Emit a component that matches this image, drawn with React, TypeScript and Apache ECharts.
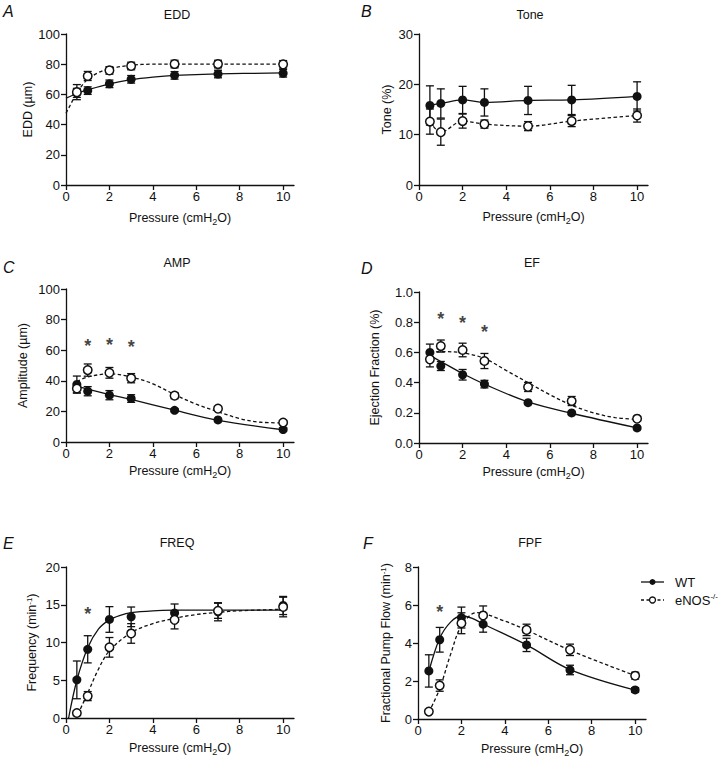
import React, { useEffect, useRef } from "react";
import * as echarts from "echarts";

// ---------- data ----------
const pressure = [0.5, 1, 2, 3, 5, 7, 10];
const xTicks = [0, 2, 4, 6, 8, 10];

// A: EDD (µm)
const eddWT = [61, 62.5, 67, 70, 72.6, 73.5, 74];
const eddWTErr = [3, 2.5, 2.5, 2.5, 2.5, 2.5, 2.5];
const eddKO = [61.5, 72.2, 75.9, 78.8, 80.1, 80.1, 79.9];
const eddKOErr = [5, 3, 2.5, 2.5, 2.5, 2.5, 2.5];
const eddFitWT = [[0, 57.5], [0.5, 60.6], [1, 63], [2, 67], [3, 69.8], [4, 71.5], [5, 72.6], [7, 73.6], [10, 74.2]];
const eddFitKO = [[0, 47.5], [0.2, 53], [0.4, 58.5], [0.6, 63], [0.8, 67], [1, 70], [1.5, 74.5], [2, 77], [3, 79.3], [4, 80], [10, 80]];

// B: Tone (%)
const toneWT = [15.8, 16.2, 16.9, 16.4, 16.8, 16.9, 17.6];
const toneWTErr = [3.9, 2.9, 2.7, 2.7, 2.8, 2.9, 2.9];
const toneKO = [12.6, 10.5, 12.7, 12.1, 11.7, 12.7, 13.8];
const toneKOErr = [2.5, 2.6, 1.4, 0.8, 0.9, 1.1, 1.3];

// C: Amplitude (µm)
const ampWT = [37.6, 33.2, 30.6, 28.4, 20.7, 14.4, 8.1];
const ampWTErr = [5.5, 3, 3, 2.5, 1, 1, 1];
const ampKO = [35, 47, 45.2, 41.7, 30.3, 21.8, 12.7];
const ampKOErr = [3, 4, 3.5, 3, 2, 1, 1];
const ampFitWT = [[0.5, 36.5], [1, 34.5], [2, 31], [3, 27.8], [5, 20.8], [7, 14.2], [10, 8]];
const ampFitKO = [[0.5, 39.5], [1, 42.5], [2, 44.5], [3, 42.5], [4, 38], [5, 31], [6, 24.7], [7, 19.8], [8, 15.3], [9, 12.9], [10, 12.5]];
const ampStars = [[1, 66], [2, 66.5], [3, 65.5]];

// D: Ejection Fraction
const efWT = [0.6, 0.51, 0.452, 0.39, 0.267, 0.199, 0.1];
const efWTErr = [0.055, 0.03, 0.035, 0.025, 0.01, 0.01, 0.01];
const efKO = [0.554, 0.642, 0.616, 0.543, 0.371, 0.278, 0.161];
const efKOErr = [0.05, 0.04, 0.045, 0.05, 0.03, 0.03, 0.015];
const efFitWT = [[0.5, 0.58], [1, 0.54], [2, 0.46], [3, 0.39], [5, 0.272], [7, 0.197], [10, 0.1]];
const efFitKO = [[0.5, 0.6], [1, 0.605], [2, 0.597], [3, 0.56], [4, 0.48], [5, 0.4], [6, 0.32], [7, 0.25], [8, 0.2], [9, 0.168], [10, 0.157]];
const efStars = [[1, 0.852], [2, 0.83], [3, 0.768]];

// E: Frequency (min-1)
const freqWT = [5.05, 9.1, 13.05, 13.4, 13.9, 14.07, 14.9];
const freqWTErr = [2.5, 1.8, 1.7, 1.3, 1.2, 1.2, 1.2];
const freqKO = [0.66, 2.9, 9.36, 11.2, 13, 14.2, 14.7];
const freqKOErr = [0.2, 0.6, 1.3, 1.3, 1.2, 1, 1.3];
const freqFitWT = [[0.12, 0], [0.5, 5], [1, 9.3], [1.5, 11.8], [2, 13], [2.5, 13.6], [3, 13.95], [4, 14.2], [5, 14.28], [7, 14.3], [10, 14.3]];
const freqFitKO = [[0.55, 0.5], [1, 3.3], [1.5, 6.5], [2, 8.9], [3, 11.3], [4, 12.5], [5, 13.2], [6, 13.7], [7, 14], [8, 14.2], [10, 14.4]];
const freqStars = [[1, 14.4]];

// F: Fractional Pump Flow (min-1)
const fpfWT = [2.53, 4.17, 5.34, 4.99, 3.9, 2.58, 1.53];
const fpfWTErr = [0.85, 0.65, 0.55, 0.42, 0.35, 0.25, 0.12];
const fpfKO = [0.39, 1.76, 5.04, 5.45, 4.69, 3.64, 2.28];
const fpfKOErr = [0.1, 0.3, 0.55, 0.5, 0.3, 0.3, 0.18];
const fpfFitWT = [[0.5, 2.5], [1, 4.25], [1.5, 5.1], [2, 5.42], [2.5, 5.3], [3, 5.0], [5, 3.9], [7, 2.6], [10, 1.52]];
const fpfFitKO = [[0.5, 0.35], [1, 1.6], [1.5, 3.4], [2, 4.9], [2.7, 5.6], [4, 5.15], [5, 4.68], [7, 3.62], [10, 2.28]];
const fpfStars = [[1, 5.92]];

const seriesNames = ["WT", "eNOS-/-"];

// ---------- layout ----------
const FONT = "'Liberation Sans', Arial, Helvetica, sans-serif";
const INK = "#111";

type Panel = {
  letter: string;
  title: string;
  grid: { left: number; top: number; width: number; height: number };
  yMax: number;
  yInterval: number;
  yName: string;
  yNameGap: number;
  xNameGap: number;
  yDecimals: number;
  wt: number[];
  wtErr: number[];
  ko: number[];
  koErr: number[];
  fitWT: number[][];
  fitKO: number[][];
  stars: number[][];
  titleX: number;
  titleY: number;
  letterX: number;
  letterY: number;
};

const panels: Panel[] = [
  {
    letter: "A", title: "EDD", grid: { left: 66, top: 34, width: 228, height: 151 },
    yMax: 100, yInterval: 20, yName: "EDD (µm)", yNameGap: 28, xNameGap: 25, yDecimals: 0,
    wt: eddWT, wtErr: eddWTErr, ko: eddKO, koErr: eddKOErr,
    fitWT: eddFitWT, fitKO: eddFitKO, stars: [],
    titleX: 177, titleY: 15, letterX: 3, letterY: 11,
  },
  {
    letter: "B", title: "Tone", grid: { left: 419, top: 34, width: 229, height: 151 },
    yMax: 30, yInterval: 10, yName: "Tone (%)", yNameGap: 26, xNameGap: 24, yDecimals: 0,
    wt: toneWT, wtErr: toneWTErr, ko: toneKO, koErr: toneKOErr,
    fitWT: pressure.map((x, i) => [x, toneWT[i]]), fitKO: pressure.map((x, i) => [x, toneKO[i]]), stars: [],
    titleX: 530, titleY: 15, letterX: 361, letterY: 11,
  },
  {
    letter: "C", title: "AMP", grid: { left: 66, top: 289, width: 228, height: 153 },
    yMax: 100, yInterval: 20, yName: "Amplitude (µm)", yNameGap: 37, xNameGap: 21, yDecimals: 0,
    wt: ampWT, wtErr: ampWTErr, ko: ampKO, koErr: ampKOErr,
    fitWT: ampFitWT, fitKO: ampFitKO, stars: ampStars,
    titleX: 177, titleY: 263, letterX: 3, letterY: 267,
  },
  {
    letter: "D", title: "EF", grid: { left: 419, top: 292, width: 229, height: 151 },
    yMax: 1, yInterval: 0.2, yName: "Ejection Fraction (%)", yNameGap: 38, xNameGap: 21, yDecimals: 1,
    wt: efWT, wtErr: efWTErr, ko: efKO, koErr: efKOErr,
    fitWT: efFitWT, fitKO: efFitKO, stars: efStars,
    titleX: 532, titleY: 263, letterX: 361, letterY: 268,
  },
  {
    letter: "E", title: "FREQ", grid: { left: 66, top: 567, width: 228, height: 151 },
    yMax: 20, yInterval: 5, yName: "Frequency (min{sup|-1})", yNameGap: 27, xNameGap: 22, yDecimals: 0,
    wt: freqWT, wtErr: freqWTErr, ko: freqKO, koErr: freqKOErr,
    fitWT: freqFitWT, fitKO: freqFitKO, stars: freqStars,
    titleX: 177, titleY: 543, letterX: 3, letterY: 543,
  },
  {
    letter: "F", title: "FPF", grid: { left: 418, top: 567, width: 228, height: 152 },
    yMax: 8, yInterval: 2, yName: "Fractional Pump Flow (min{sup|-1})", yNameGap: 25, xNameGap: 22, yDecimals: 0,
    wt: fpfWT, wtErr: fpfWTErr, ko: fpfKO, koErr: fpfKOErr,
    fitWT: fpfFitWT, fitKO: fpfFitKO, stars: fpfStars,
    titleX: 530, titleY: 543, letterX: 363, letterY: 543,
  },
];

const richText = {
  sub: { fontSize: 9, fontFamily: FONT, color: INK, padding: [7, 0, 0, 0] },
  sup: { fontSize: 8, fontFamily: FONT, color: INK, padding: [0, 0, 6, 0] },
};

function errorRender(params: any, api: any) {
  const x = api.value(0);
  const lo = api.value(1);
  const hi = api.value(2);
  const p1 = api.coord([x, hi]);
  const p2 = api.coord([x, lo]);
  const w = 4;
  const style = { stroke: INK, lineWidth: 1.3, fill: "none" };
  return {
    type: "group",
    children: [
      { type: "line", shape: { x1: p1[0], y1: p1[1], x2: p2[0], y2: p2[1] }, style },
      { type: "line", shape: { x1: p1[0] - w, y1: p1[1], x2: p1[0] + w, y2: p1[1] }, style },
      { type: "line", shape: { x1: p2[0] - w, y1: p2[1], x2: p2[0] + w, y2: p2[1] }, style },
    ],
  };
}

function buildOption() {
  const grid: any[] = [];
  const xAxis: any[] = [];
  const yAxis: any[] = [];
  const series: any[] = [];
  const graphic: any[] = [];

  panels.forEach((p, i) => {
    grid.push({ ...p.grid, outerBoundsMode: "none", containLabel: false });
    xAxis.push({
      type: "value", gridIndex: i, min: 0, max: 10.5,
      name: "Pressure (cmH{sub|2}O)", nameLocation: "middle", nameGap: p.xNameGap,
      nameTextStyle: { fontSize: 12.5, fontFamily: FONT, color: INK, rich: richText },
      axisLine: { onZero: false, lineStyle: { color: INK, width: 1.3 } },
      axisTick: { length: 5, lineStyle: { color: INK, width: 1.3 }, customValues: xTicks },
      axisLabel: { fontSize: 13, fontFamily: FONT, color: INK, margin: 5, customValues: xTicks },
      splitLine: { show: false },
    });
    yAxis.push({
      type: "value", gridIndex: i, min: 0, max: p.yMax, interval: p.yInterval,
      name: p.yName, nameLocation: "middle", nameGap: p.yNameGap,
      nameTextStyle: { fontSize: 12.5, fontFamily: FONT, color: INK, rich: richText },
      axisLine: { show: true, onZero: false, lineStyle: { color: INK, width: 1.3 } },
      axisTick: { show: true, length: 5, lineStyle: { color: INK, width: 1.3 } },
      axisLabel: {
        fontSize: 13, fontFamily: FONT, color: INK, margin: 6,
        formatter: (v: number) => v.toFixed(p.yDecimals),
      },
      splitLine: { show: false },
    });

    const errData = (m: number[], e: number[]) => pressure.map((x, k) => [x, m[k] - e[k], m[k] + e[k]]);
    [
      { m: p.wt, e: p.wtErr, name: seriesNames[0] },
      { m: p.ko, e: p.koErr, name: seriesNames[1] },
    ].forEach((s) => {
      series.push({
        type: "custom", name: s.name + " SEM", xAxisIndex: i, yAxisIndex: i,
        renderItem: errorRender, encode: { x: 0, y: [1, 2] },
        data: errData(s.m, s.e), z: 2, silent: true,
      });
    });

    series.push({
      type: "line", name: seriesNames[0] + " fit", xAxisIndex: i, yAxisIndex: i,
      data: p.fitWT, showSymbol: false, smooth: 0.35,
      lineStyle: { color: INK, width: 1.3, type: "solid" }, z: 3, silent: true,
    });
    series.push({
      type: "line", name: seriesNames[1] + " fit", xAxisIndex: i, yAxisIndex: i,
      data: p.fitKO, showSymbol: false, smooth: 0.35,
      lineStyle: { color: INK, width: 1.3, type: [3.5, 2.5] }, z: 3, silent: true,
    });

    series.push({
      type: "scatter", name: seriesNames[0], xAxisIndex: i, yAxisIndex: i,
      data: pressure.map((x, k) => [x, p.wt[k]]), symbol: "circle", symbolSize: 9,
      itemStyle: { color: INK, opacity: 1 }, z: 5, silent: true,
    });
    series.push({
      type: "scatter", name: seriesNames[1], xAxisIndex: i, yAxisIndex: i,
      data: pressure.map((x, k) => [x, p.ko[k]]), symbol: "circle", symbolSize: 8.5,
      itemStyle: { color: "#fff", borderColor: INK, borderWidth: 1.5, opacity: 1 }, z: 6, silent: true,
    });

    if (p.stars.length) {
      series.push({
        type: "scatter", name: "significance", xAxisIndex: i, yAxisIndex: i,
        data: p.stars, symbolSize: 0, z: 6, silent: true,
        label: {
          show: true, position: "inside", formatter: "*", offset: [0, 5],
          fontSize: 18, fontWeight: "bold", fontFamily: FONT, color: INK,
        },
      });
    }

    graphic.push({
      type: "text", x: p.titleX, y: p.titleY,
      style: { text: p.title, fill: INK, font: `12.5px ${FONT}`, align: "center", verticalAlign: "middle" },
    });
    graphic.push({
      type: "text", x: p.letterX, y: p.letterY,
      style: { text: p.letter, fill: INK, font: `italic 16px ${FONT}`, align: "left", verticalAlign: "middle" },
    });
  });

  // legend (panel F)
  const lx1 = 641, lx2 = 664, lcx = 652.5, ly1 = 582, ly2 = 600;
  graphic.push(
    { type: "line", shape: { x1: lx1, y1: ly1, x2: lx2, y2: ly1 }, style: { stroke: INK, lineWidth: 1.3 } },
    { type: "circle", shape: { cx: lcx, cy: ly1, r: 3 }, style: { fill: INK } },
    { type: "text", x: 675, y: ly1, style: { text: "WT", fill: INK, font: `13px ${FONT}`, verticalAlign: "middle" } },
    { type: "line", shape: { x1: lx1, y1: ly2, x2: lx2, y2: ly2 }, style: { stroke: INK, lineWidth: 1.3, lineDash: [3, 2.5] } },
    { type: "circle", shape: { cx: lcx, cy: ly2, r: 3 }, style: { fill: "#fff", stroke: INK, lineWidth: 1.3 } },
    {
      type: "text", x: 675, y: ly2,
      style: {
        text: "eNOS{sup|-/-}", fill: INK, font: `13px ${FONT}`, verticalAlign: "middle",
        rich: { sup: { fontSize: 8, fontFamily: FONT, fill: INK, padding: [0, 0, 7, 0] } },
      },
    }
  );

  return {
    animation: false,
    backgroundColor: "#fff",
    textStyle: { fontFamily: FONT },
    grid, xAxis, yAxis, series, graphic,
  };
}

export default function App() {
  const ref = useRef<HTMLDivElement>(null);
  useEffect(() => {
    document.body.style.margin = "0";
    if (!ref.current) return;
    const chart = echarts.init(ref.current, null, { renderer: "svg" });
    chart.setOption(buildOption() as any);
    return () => chart.dispose();
  }, []);
  return <div ref={ref} style={{ width: 720, height: 758 }} />;
}
